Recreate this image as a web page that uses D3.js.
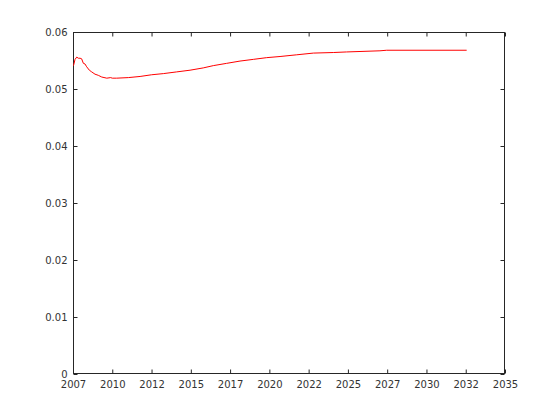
<!DOCTYPE html>
<html>
<head>
<meta charset="utf-8">
<script src="https://cdn.jsdelivr.net/npm/d3@7"></script>
<style>
  html, body { margin: 0; padding: 0; background: #fff; }
  svg { display: block; }
  text { font-family: "DejaVu Sans", sans-serif; font-size: 10px; fill: #333; }
</style>
</head>
<body>
<svg id="chart" width="560" height="420"></svg>
<script>
const years = [2007.03, 2007.06, 2007.13, 2007.24, 2007.34, 2007.45, 2007.55, 2007.66, 2007.76, 2007.87,
  2008.04, 2008.19, 2008.40, 2008.61, 2008.83, 2009.15, 2009.40, 2009.50, 2009.78, 2010.52, 2011.27, 2012.01,
  2012.75, 2013.60, 2014.45, 2015.29, 2015.93, 2016.78, 2017.63, 2018.48, 2019.33, 2020.18,
  2021.24, 2022.30, 2023.57, 2024.42, 2026.54, 2026.97, 2032.06];
const values = [0.0541, 0.0544, 0.0552, 0.0556, 0.0554, 0.0554, 0.0553, 0.0545, 0.0544, 0.0539,
  0.0533, 0.0530, 0.0526, 0.0524, 0.0521, 0.0519, 0.0520, 0.0519, 0.0519, 0.0520, 0.0522, 0.0525,
  0.0527, 0.0530, 0.0533, 0.0537, 0.0541, 0.0545, 0.0549, 0.0552, 0.0555, 0.0557,
  0.0560, 0.0563, 0.0564, 0.0565, 0.0567, 0.0568, 0.0568];
const xTickValues = [2007, 2009.5, 2012, 2014.5, 2017, 2019.5, 2022, 2024.5, 2027, 2029.5, 2032, 2034.5];
const xTickLabels = ["2007", "2010", "2012", "2015", "2017", "2020", "2022", "2025", "2027", "2030", "2032", "2035"];
const yTickValues = [0, 0.01, 0.02, 0.03, 0.04, 0.05, 0.06];
const yTickLabels = ["0", "0.01", "0.02", "0.03", "0.04", "0.05", "0.06"];

const svg = d3.select("#chart");
const L = 73, R = 505, T = 32, B = 374;
const x = d3.scaleLinear().domain([2007, 2034.5]).range([L, R]);
const y = d3.scaleLinear().domain([0, 0.06]).range([B, T]);
const axisColor = "#262626";
const textColor = "#333";
const tickLen = 4;

// Box
svg.append("rect").attr("x", L + 0.5).attr("y", T + 0.5)
  .attr("width", R - L - 1).attr("height", B - T - 1)
  .attr("fill", "none").attr("stroke", axisColor).attr("stroke-width", 1);

function styleAxis(g) {
  g.select(".domain").remove();
  g.selectAll(".tick line").attr("stroke", axisColor);
}

// Bottom axis: ticks inward
const gx = svg.append("g").attr("transform", `translate(0,${B - 0.5})`)
  .call(d3.axisBottom(x).tickValues(xTickValues)
    .tickFormat((d, i) => xTickLabels[i]).tickSizeInner(-tickLen).tickSizeOuter(0).tickPadding(7));
styleAxis(gx);
gx.selectAll(".tick text").attr("dy", "0.71em").style("font-family", "DejaVu Sans").style("font-size", "10px").attr("fill", textColor);

// Top axis ticks
const gxt = svg.append("g").attr("transform", `translate(0,${T + 0.5})`)
  .call(d3.axisTop(x).tickValues(xTickValues).tickFormat("").tickSizeInner(-tickLen).tickSizeOuter(0));
styleAxis(gxt);

// Left axis
const gy = svg.append("g").attr("transform", `translate(${L + 0.5},0)`)
  .call(d3.axisLeft(y).tickValues(yTickValues)
    .tickFormat((d, i) => yTickLabels[i]).tickSizeInner(-tickLen).tickSizeOuter(0).tickPadding(6));
styleAxis(gy);
gy.selectAll(".tick text").style("font-family", "DejaVu Sans").style("font-size", "10px").attr("fill", textColor);

// Right axis ticks
const gyr = svg.append("g").attr("transform", `translate(${R - 0.5},0)`)
  .call(d3.axisRight(y).tickValues(yTickValues).tickFormat("").tickSizeInner(-tickLen).tickSizeOuter(0));
styleAxis(gyr);

// Line
const data = years.map((yr, i) => [yr, values[i]]);
svg.append("path").datum(data)
  .attr("fill", "none").attr("stroke", "#ff0000").attr("stroke-width", 1)
  .attr("d", d3.line().x(d => x(d[0])).y(d => y(d[1])));
</script>
</body>
</html>
